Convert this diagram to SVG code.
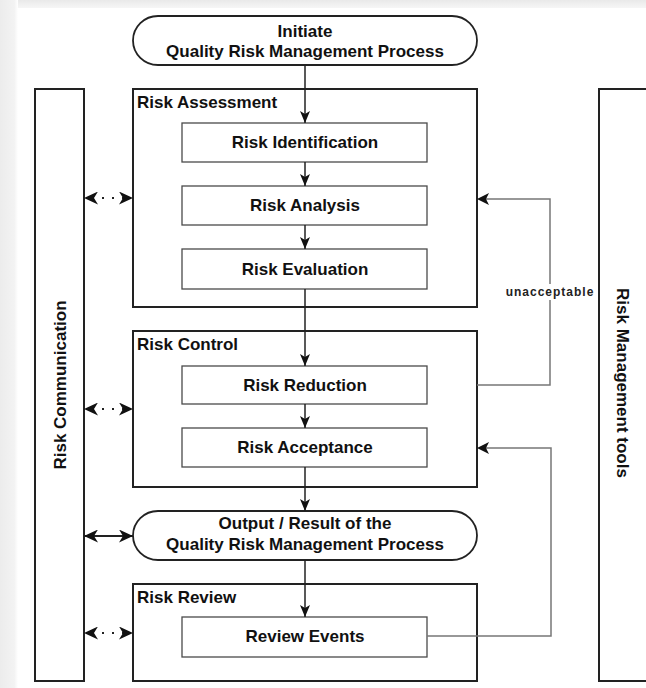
<svg xmlns="http://www.w3.org/2000/svg" width="646" height="688" viewBox="0 0 646 688">
  <defs>
    <linearGradient id="leftShade" x1="0" y1="0" x2="1" y2="0">
      <stop offset="0" stop-color="#ececec"/>
      <stop offset="0.8" stop-color="#f3f3f3"/>
      <stop offset="1" stop-color="#ffffff"/>
    </linearGradient>
    <linearGradient id="topShade" x1="0" y1="0" x2="0" y2="1">
      <stop offset="0" stop-color="#e9e9e9"/>
      <stop offset="1" stop-color="#f6f6f6"/>
    </linearGradient>
    <marker id="head" viewBox="0 0 12 10" refX="12" refY="5" markerWidth="12" markerHeight="10" markerUnits="userSpaceOnUse" orient="auto-start-reverse">
      <path d="M0,0 L12,5 L0,10 L3,5 Z" fill="#111"/>
    </marker>
    <marker id="headBig" viewBox="0 0 14 13" refX="14" refY="6.5" markerWidth="14" markerHeight="13" markerUnits="userSpaceOnUse" orient="auto-start-reverse">
      <path d="M0,0 L14,6.5 L0,13 L4,6.5 Z" fill="#111"/>
    </marker>
  </defs>
  <style>
    .outer { fill: #ffffff; stroke: #222; stroke-width: 2; }
    .inner { fill: #ffffff; stroke: #4a4a4a; stroke-width: 1.3; }
    .pill { fill: #ffffff; stroke: #222; stroke-width: 1.8; }
    .label { font-family: "Liberation Sans", Arial, sans-serif; font-weight: bold; font-size: 17px; fill: #111; }
    .mid { text-anchor: middle; }
    .small { font-family: "Liberation Sans", Arial, sans-serif; font-weight: bold; font-size: 12px; letter-spacing: 1px; fill: #222; text-anchor: middle; }
    .flow { fill: none; stroke: #222; stroke-width: 1.5; marker-end: url(#head); }
    .loop { fill: none; stroke: #777; stroke-width: 1.5; }
    .comm { fill: none; stroke: #222; stroke-width: 1.8; marker-start: url(#headBig); marker-end: url(#headBig); }
    .dotted { stroke-dasharray: 2 8; stroke-dashoffset: 2; }
  </style>

  <!-- page background with soft edge at top and left -->
  <rect x="0" y="0" width="646" height="688" fill="#ffffff"/>
  <rect x="0" y="0" width="646" height="8" fill="url(#topShade)"/>
  <rect x="0" y="0" width="18" height="688" fill="url(#leftShade)"/>

  <!-- side bars -->
  <g id="risk-communication">
    <rect class="outer" x="35" y="89" width="49" height="592"/>
    <text class="label mid" transform="translate(66,385) rotate(-90)">Risk Communication</text>
  </g>
  <g id="risk-management-tools">
    <rect class="outer" x="599" y="89" width="70" height="592"/>
    <text class="label mid" transform="translate(617,383) rotate(90)">Risk Management tools</text>
  </g>

  <!-- start and end terminators -->
  <g id="initiate">
    <rect class="pill" x="133" y="16" width="344" height="49" rx="25" ry="24.5"/>
    <text class="label mid" x="305" y="37">Initiate</text>
    <text class="label mid" x="305" y="57">Quality Risk Management Process</text>
  </g>

  <!-- risk assessment stage -->
  <g id="risk-assessment">
    <rect class="outer" x="133" y="89" width="344" height="218"/>
    <text class="label" x="137" y="108">Risk Assessment</text>
  </g>
  <g id="risk-identification">
    <rect class="inner" x="182" y="123" width="245" height="39"/>
    <text class="label mid" x="305" y="148">Risk Identification</text>
  </g>
  <g id="risk-analysis">
    <rect class="inner" x="182" y="186" width="245" height="39"/>
    <text class="label mid" x="305" y="211">Risk Analysis</text>
  </g>
  <g id="risk-evaluation">
    <rect class="inner" x="182" y="249" width="245" height="40"/>
    <text class="label mid" x="305" y="275">Risk Evaluation</text>
  </g>

  <!-- risk control stage -->
  <g id="risk-control">
    <rect class="outer" x="133" y="331" width="344" height="156"/>
    <text class="label" x="137" y="350">Risk Control</text>
  </g>
  <g id="risk-reduction">
    <rect class="inner" x="182" y="366" width="245" height="38"/>
    <text class="label mid" x="305" y="391">Risk Reduction</text>
  </g>
  <g id="risk-acceptance">
    <rect class="inner" x="182" y="428" width="245" height="39"/>
    <text class="label mid" x="305" y="453">Risk Acceptance</text>
  </g>

  <g id="output">
    <rect class="pill" x="133" y="511" width="344" height="49" rx="25" ry="24.5"/>
    <text class="label mid" x="305" y="529">Output / Result of the</text>
    <text class="label mid" x="305" y="550">Quality Risk Management Process</text>
  </g>

  <!-- risk review stage -->
  <g id="risk-review">
    <rect class="outer" x="133" y="584" width="344" height="97"/>
    <text class="label" x="137" y="603">Risk Review</text>
  </g>
  <g id="review-events">
    <rect class="inner" x="182" y="617" width="245" height="40"/>
    <text class="label mid" x="305" y="642">Review Events</text>
  </g>

  <!-- connectors -->
  <g id="connectors">
    <path class="flow" d="M305,65 V123"/>
    <path class="flow" d="M305,162 V186"/>
    <path class="flow" d="M305,225 V249"/>
    <path class="flow" d="M305,289 V366"/>
    <path class="flow" d="M305,404 V428"/>
    <path class="flow" d="M305,467 V511"/>
    <path class="flow" d="M305,560 V617"/>

    <!-- feedback loops on the right -->
    <path class="loop" d="M477,385 H550 V199 H479"/>
    <path d="M477,199 L489,193 L486,199 L489,205 Z" fill="#111"/>
    <rect x="504" y="284" width="92" height="16" fill="#ffffff"/>
    <text class="small" x="550" y="296">unacceptable</text>

    <path class="loop" d="M427,636 H551 V448 H479"/>
    <path d="M477,448 L489,442 L486,448 L489,454 Z" fill="#111"/>

    <!-- communication links -->
    <path class="comm dotted" d="M84,198 H133"/>
    <path class="comm dotted" d="M84,409 H133"/>
    <path class="comm" d="M84,536 H133"/>
    <path class="comm dotted" d="M84,633 H133"/>
  </g>
</svg>
